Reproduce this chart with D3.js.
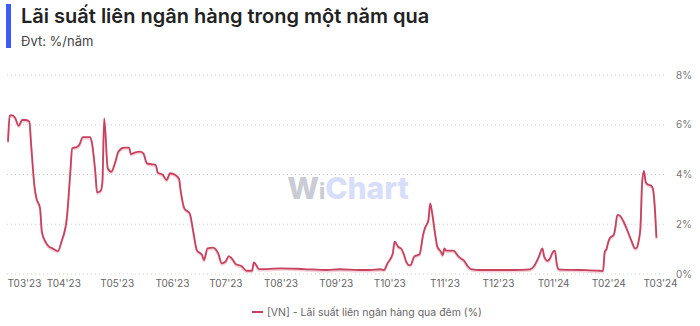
<!DOCTYPE html>
<html><head><meta charset="utf-8">
<script src="https://cdn.jsdelivr.net/npm/d3@7"></script>
<style>
html,body{margin:0;padding:0;background:#fff;}
svg{display:block;font-family:Inter,"Noto Sans",sans-serif;}
</style></head>
<body>
<svg id="chart" width="700" height="326"></svg>
<script>
const titleText = "Lãi suất liên ngân hàng trong một năm qua";
const subtitleText = "Đvt: %/năm";
const seriesName = "[VN] - Lãi suất liên ngân hàng qua đêm (%)";

const dates = [
"2023-03-01","2023-03-02","2023-03-03","2023-03-05","2023-03-07","2023-03-09","2023-03-11","2023-03-13","2023-03-14","2023-03-16",
"2023-03-17","2023-03-19","2023-03-20","2023-03-22","2023-03-24","2023-03-26","2023-03-29","2023-03-31","2023-04-03","2023-04-05",
"2023-04-06","2023-04-09","2023-04-10","2023-04-12","2023-04-16","2023-04-17","2023-04-19","2023-04-20","2023-04-22","2023-04-23",
"2023-04-24","2023-04-26","2023-04-28","2023-04-30","2023-05-02","2023-05-05","2023-05-08","2023-05-09","2023-05-11","2023-05-14",
"2023-05-16","2023-05-18","2023-05-21","2023-05-23","2023-05-24","2023-05-27","2023-05-29","2023-05-31","2023-06-03","2023-06-05",
"2023-06-06","2023-06-08","2023-06-11","2023-06-13","2023-06-15","2023-06-18","2023-06-19","2023-06-21","2023-06-24","2023-06-27",
"2023-06-29","2023-07-01","2023-07-03","2023-07-05","2023-07-07","2023-07-10","2023-07-13","2023-07-16","2023-07-17","2023-07-20",
"2023-07-24","2023-08-01","2023-08-14","2023-08-27","2023-09-03","2023-09-14","2023-09-20","2023-09-26","2023-09-28","2023-09-30",
"2023-10-03","2023-10-04","2023-10-06","2023-10-08","2023-10-09","2023-10-11","2023-10-12","2023-10-13","2023-10-15","2023-10-17",
"2023-10-18","2023-10-20","2023-10-21","2023-10-23","2023-10-24","2023-10-25","2023-10-27","2023-10-28","2023-10-30","2023-10-31",
"2023-11-01","2023-11-02","2023-11-06","2023-11-09","2023-11-11","2023-11-12","2023-11-14","2023-11-16","2023-11-21","2023-11-30",
"2023-12-10","2023-12-19","2023-12-21","2023-12-24","2023-12-26","2023-12-27","2023-12-29","2023-12-30","2024-01-01","2024-01-02",
"2024-01-03","2024-01-04","2024-01-16","2024-01-27","2024-01-29","2024-01-30","2024-01-31","2024-02-01","2024-02-02","2024-02-04",
"2024-02-05","2024-02-06","2024-02-07","2024-02-08","2024-02-10","2024-02-12","2024-02-14","2024-02-16","2024-02-17","2024-02-18",
"2024-02-19","2024-02-20","2024-02-21","2024-02-22","2024-02-23","2024-02-25","2024-02-26","2024-02-27","2024-02-28"
];
const rates = [
5.32,6.36,6.39,6.28,5.96,6.19,6.19,6.12,5.19,3.44,
3.04,2.64,1.70,1.30,1.10,1.03,0.92,1.30,2.24,4.11,
5.05,5.12,5.19,5.50,5.50,5.32,4.11,3.28,3.34,3.71,
6.26,4.25,4.11,4.45,4.92,5.08,5.08,4.82,4.88,4.92,
4.85,4.45,4.41,4.38,4.09,3.98,3.78,4.05,3.98,3.82,
3.31,2.64,2.44,1.70,0.96,0.76,0.56,1.03,1.06,0.83,
0.43,0.49,0.72,0.59,0.39,0.32,0.13,0.13,0.47,0.20,
0.20,0.23,0.20,0.16,0.19,0.16,0.16,0.19,0.16,0.43,
0.83,1.30,1.10,0.99,0.83,0.43,0.36,0.36,0.70,0.76,
0.79,1.57,1.84,2.17,2.84,2.50,1.50,1.10,0.90,0.76,
1.03,0.94,0.94,0.70,0.59,0.54,0.32,0.20,0.16,0.16,
0.16,0.19,0.29,0.70,1.03,0.70,0.53,0.60,0.90,0.94,
0.43,0.19,0.16,0.13,0.12,0.90,1.01,1.30,1.46,1.57,
1.90,2.37,2.37,2.30,2.04,1.70,1.33,1.03,1.06,1.33,
1.84,3.71,4.14,3.69,3.61,3.55,3.44,2.77,1.46
];
const yTicks = [0, 2, 4, 6, 8];
const xTickMonths = ["2023-03-01","2023-04-01","2023-05-01","2023-06-01","2023-07-01","2023-08-01","2023-09-01","2023-10-01","2023-11-01","2023-12-01","2024-01-01","2024-02-01","2024-03-01"];

const parse = d3.utcParse("%Y-%m-%d");
const data = dates.map((d, i) => ({date: parse(d), value: rates[i]}));

const svg = d3.select("#chart");
const lineColor = "#c8415f";

// Title block
svg.append("rect").attr("x", 6).attr("y", 4).attr("width", 5).attr("height", 44).attr("fill", "#3d5cf5");
svg.append("text").attr("x", 21).attr("y", 23).attr("font-size", 20).attr("font-weight", 600)
  .attr("fill", "#222").text(titleText);
svg.append("text").attr("x", 21).attr("y", 46).attr("font-size", 13).attr("fill", "#444").text(subtitleText);

const x = d3.scaleUtc().domain([parse("2023-03-01"), parse("2024-03-01")]).range([8, 660]);
const y = d3.scaleLinear().domain([0, 8]).range([274, 75]);

// Watermark
const wm = svg.append("text").attr("x", 348).attr("y", 199).attr("text-anchor", "middle")
  .attr("font-size", 30).attr("font-weight", 800).attr("font-family", "Inter, sans-serif").attr("opacity", 0.75);
wm.append("tspan").attr("fill", "#b9bac8").text("W");
wm.append("tspan").attr("fill", "#b9bac8").attr("font-size", 22).text("i");
wm.append("tspan").attr("fill", "#ccd4f8").text("Chart");

// Gridlines
svg.append("g").selectAll("line").data(yTicks).join("line")
  .attr("x1", 7).attr("x2", 667)
  .attr("y1", d => y(d)).attr("y2", d => y(d))
  .attr("stroke", "#cfcfcf").attr("stroke-width", 1).attr("stroke-dasharray", "1,3");

// Y axis labels (right)
const yAxis = d3.axisRight(y).tickValues(yTicks).tickSize(0).tickPadding(0).tickFormat(d => d + "%");
const gy = svg.append("g").attr("transform", "translate(676,0)").call(yAxis);
gy.select(".domain").remove();
gy.selectAll("text").attr("font-size", 10).attr("fill", "#777").attr("font-family", "Inter, sans-serif");

// X axis labels
const xt = xTickMonths.map(parse);
const xAxis = d3.axisBottom(x).tickValues(xt).tickSize(0).tickPadding(0)
  .tickFormat(d => "T" + d3.utcFormat("%m")(d) + "'" + d3.utcFormat("%y")(d));
const gx = svg.append("g").attr("transform", "translate(0,280)").call(xAxis);
gx.select(".domain").remove();
gx.selectAll("text").attr("font-size", 10).attr("fill", "#666").attr("font-family", "Inter, sans-serif");
gx.selectAll(".tick").filter((d, i) => i === 0).select("text").attr("text-anchor", "start").attr("x", -1);

// Line
const line = d3.line().x(d => x(d.date)).y(d => y(d.value)).curve(d3.curveMonotoneX);
svg.append("path").datum(data).attr("d", line).attr("fill", "none")
  .attr("stroke", "#e8b5c0").attr("stroke-width", 2).attr("transform", "translate(0,1.5)").attr("opacity", 0.6);
svg.append("path").datum(data).attr("d", line).attr("fill", "none")
  .attr("stroke", lineColor).attr("stroke-width", 1.8).attr("stroke-linejoin", "round");

// Legend
svg.append("line").attr("x1", 252).attr("x2", 263).attr("y1", 312).attr("y2", 312)
  .attr("stroke", lineColor).attr("stroke-width", 2);
svg.append("text").attr("x", 267).attr("y", 316).attr("font-size", 10.5).attr("fill", "#666").text(seriesName);
</script>
</body></html>
